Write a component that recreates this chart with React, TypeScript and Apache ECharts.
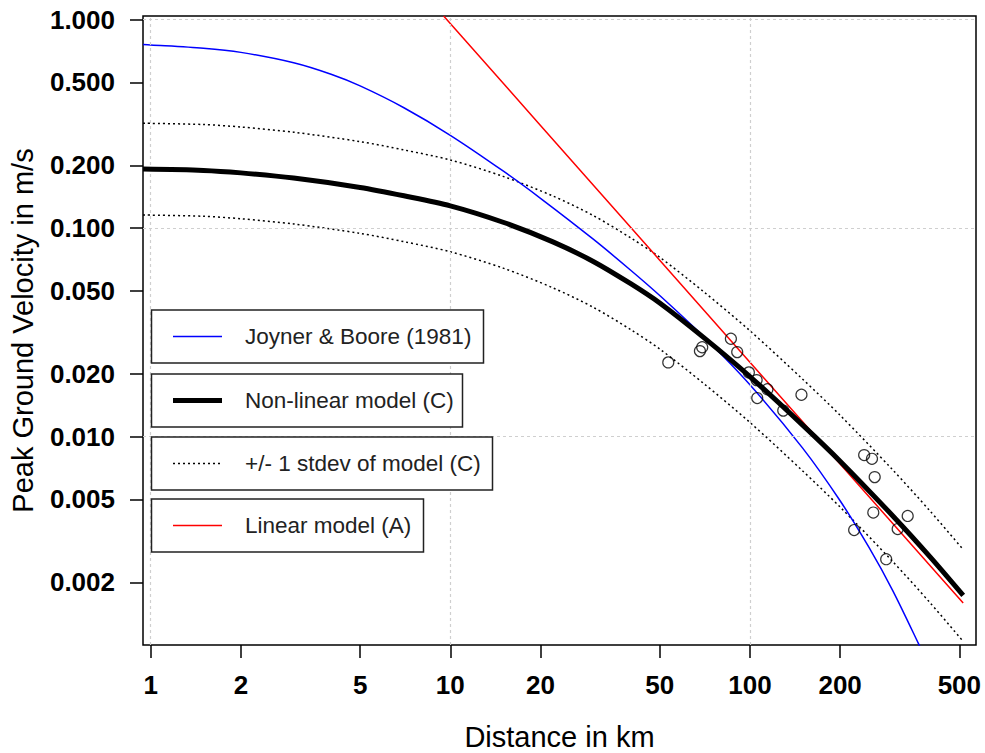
import React, { useEffect, useRef } from "react";
import * as echarts from "echarts";

// ---- Data (distance in km, peak ground velocity in m/s) ----
const modelDist = [0.943, 1.5, 2, 3, 5, 7, 10, 15, 22, 30, 40, 50, 70, 100, 150, 200, 300, 400, 515];
const modelPgv = [0.1919, 0.1892, 0.1841, 0.1738, 0.1567, 0.1429, 0.1279, 0.1067, 0.0859, 0.0692, 0.0541, 0.0437, 0.0299, 0.0194, 0.01135, 0.00762, 0.00416, 0.00264, 0.00173];
const upperPgv = [0.3185, 0.314, 0.3056, 0.2885, 0.2601, 0.2372, 0.2123, 0.1771, 0.1426, 0.1149, 0.0898, 0.0725, 0.0496, 0.0322, 0.01884, 0.01265, 0.00691, 0.00438, 0.00287];
const lowerPgv = [0.1156, 0.114, 0.1109, 0.1047, 0.0944, 0.0861, 0.077, 0.0643, 0.0517, 0.0417, 0.0326, 0.0263, 0.018, 0.01169, 0.00684, 0.00459, 0.00251, 0.00159, 0.00104];

const jbDist = [0.943, 1, 1.5, 2, 3, 4, 5, 7, 10, 15, 20, 30, 40, 50, 70, 100, 150, 200, 250, 300, 366, 380];
const jbPgv = [0.76, 0.757, 0.73, 0.697, 0.621, 0.547, 0.481, 0.378, 0.2788, 0.188, 0.139, 0.0885, 0.0628, 0.0475, 0.0302, 0.01772, 0.0088, 0.00492, 0.00293, 0.00182, 0.00101, 0.000896];

const linDist = [9.5, 20, 50, 100, 200, 515];
const linPgv = [1.043, 0.311, 0.0702, 0.02275, 0.00738, 0.00159];

const obsDist = [53.4, 68.1, 69.3, 86.4, 90.7, 99.2, 105.3, 114.4, 105.8, 129.2, 148.6, 240.6, 255.5, 260.9, 258.1, 336.2, 222.8, 311.3, 285.0];
const obsPgv = [0.02269, 0.0257, 0.02682, 0.02945, 0.02542, 0.02032, 0.01866, 0.01686, 0.0153, 0.01332, 0.01587, 0.00815, 0.00782, 0.00639, 0.00432, 0.00416, 0.00356, 0.0036, 0.00258];

const xTickLabels = [1, 2, 5, 10, 20, 50, 100, 200, 500];
const yTickLabels = [0.002, 0.005, 0.01, 0.02, 0.05, 0.1, 0.2, 0.5, 1];
const xGrid = [1, 10, 100];
const yGrid = [1, 0.1, 0.01];

const legendItems = ["Joyner & Boore (1981)", "Non-linear model (C)", "+/- 1 stdev of model (C)", "Linear model (A)"];

const FONT = '"Liberation Sans", Arial, Helvetica, sans-serif';

const toPairs = (xs: number[], ys: number[]) => xs.map((x, i) => [Math.log10(x), Math.log10(ys[i])]);

export default function App() {
  const ref = useRef<HTMLDivElement>(null);
  useEffect(() => {
    if (!ref.current) return;
    const chart = echarts.init(ref.current, null, { renderer: "svg" });

    const gridLeft = 143;
    const gridTop = 16;
    const gridRight = 976;
    const gridBottom = 645;

    const legendBoxes = [
      { y: 310, w: 332, stroke: "#0000ff", width: 1.5, dash: null as any },
      { y: 374, w: 311, stroke: "#000", width: 5, dash: null as any },
      { y: 437, w: 341, stroke: "#000", width: 1.5, dash: [2, 3] },
      { y: 499, w: 272, stroke: "#ff0000", width: 1.5, dash: null as any },
    ];
    const graphics: any[] = [];
    legendBoxes.forEach((b, i) => {
      const cy = b.y + 26.5;
      graphics.push({
        type: "rect",
        shape: { x: 151.5, y: b.y, width: b.w, height: 53 },
        style: { fill: "#fff", stroke: "#222", lineWidth: 1.5 },
        z: 100,
      });
      graphics.push({
        type: "line",
        shape: { x1: 173, y1: cy, x2: 222, y2: cy },
        style: { stroke: b.stroke, lineWidth: b.width, lineDash: b.dash },
        z: 101,
      });
      graphics.push({
        type: "text",
        x: 245,
        y: cy,
        style: {
          text: legendItems[i],
          fill: "#222",
          font: `22.5px ${FONT}`,
          verticalAlign: "middle",
          align: "left",
        },
        z: 101,
      });
    });

    const option: any = {
      animation: false,
      backgroundColor: "#fff",
      grid: {
        left: gridLeft,
        top: gridTop,
        right: 985 - gridRight,
        bottom: 753 - gridBottom,
        show: true,
        borderColor: "#000",
        borderWidth: 1.5,
        containLabel: false,
        outerBoundsMode: "none",
      },
      xAxis: {
        type: "value",
        min: -0.0257,
        max: 2.7546,
        name: "Distance in km",
        nameLocation: "middle",
        nameGap: 77,
        nameTextStyle: { fontFamily: FONT, fontSize: 29, color: "#000" },
        axisLine: { show: false, onZero: false },
        axisTick: {
          show: true,
          customValues: xTickLabels.map((v) => Math.log10(v)),
          length: 13,
          lineStyle: { color: "#000", width: 1.5 },
        },
        axisLabel: {
          customValues: xTickLabels.map((v) => Math.log10(v)),
          formatter: (v: number) => String(Math.round(Math.pow(10, v))),
          margin: 27,
          fontFamily: FONT,
          fontSize: 26,
          fontWeight: "bold",
          color: "#000",
        },
        splitLine: { show: false },
      },
      yAxis: {
        type: "value",
        min: -3.0,
        max: 0.0177,
        name: "Peak Ground Velocity in m/s",
        nameLocation: "middle",
        nameGap: 106,
        nameTextStyle: { fontFamily: FONT, fontSize: 29, color: "#000" },
        axisLine: { show: false, onZero: false },
        axisTick: {
          show: true,
          customValues: yTickLabels.map((v) => Math.log10(v)),
          length: 13,
          lineStyle: { color: "#000", width: 1.5 },
        },
        axisLabel: {
          customValues: yTickLabels.map((v) => Math.log10(v)),
          formatter: (v: number) => Math.pow(10, v).toFixed(3),
          margin: 28,
          fontFamily: FONT,
          fontSize: 26,
          fontWeight: "bold",
          color: "#000",
        },
        splitLine: { show: false },
      },
      series: [
        {
          type: "line",
          data: [],
          z: 1,
          silent: true,
          markLine: {
            silent: true,
            symbol: "none",
            label: { show: false },
            lineStyle: { color: "#cfcfcf", type: [3, 3], width: 1.2 },
            data: [
              ...xGrid.map((v) => ({ xAxis: Math.log10(v) })),
              ...yGrid.map((v) => ({ yAxis: Math.log10(v) })),
            ],
          },
        },
        {
          name: "upper",
          type: "line",
          data: toPairs(modelDist, upperPgv),
          showSymbol: false,
          smooth: 0.3,
          z: 3,
          lineStyle: { color: "#000", width: 1.5, type: [2, 3] },
        },
        {
          name: "lower",
          type: "line",
          data: toPairs(modelDist, lowerPgv),
          showSymbol: false,
          smooth: 0.3,
          z: 3,
          lineStyle: { color: "#000", width: 1.5, type: [2, 3] },
        },
        {
          name: legendItems[0],
          type: "line",
          data: toPairs(jbDist, jbPgv),
          showSymbol: false,
          smooth: 0.3,
          z: 4,
          lineStyle: { color: "#0000ff", width: 1.5 },
        },
        {
          name: legendItems[3],
          type: "line",
          data: toPairs(linDist, linPgv),
          showSymbol: false,
          z: 4,
          lineStyle: { color: "#ff0000", width: 1.5 },
        },
        {
          name: legendItems[1],
          type: "line",
          data: toPairs(modelDist, modelPgv),
          showSymbol: false,
          smooth: 0.3,
          z: 5,
          lineStyle: { color: "#000", width: 5 },
        },
        {
          name: "observations",
          type: "scatter",
          data: toPairs(obsDist, obsPgv),
          symbol: "circle",
          symbolSize: 11,
          z: 6,
          itemStyle: { color: "rgba(0,0,0,0)", borderColor: "#000", borderWidth: 1.2 },
        },
      ],
      graphic: graphics,
    };
    chart.setOption(option);
    return () => chart.dispose();
  }, []);
  return (
    <div
      ref={ref}
      style={{ position: "fixed", left: 0, top: 0, width: 985, height: 753, background: "#fff" }}
    />
  );
}
